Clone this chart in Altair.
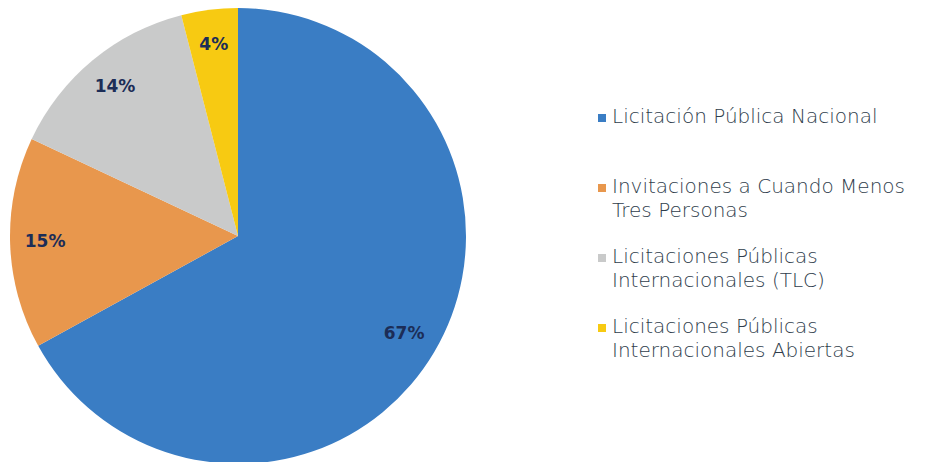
import altair as alt
import pandas as pd

categories = [
    "Licitación Pública Nacional",
    "Invitaciones a Cuando Menos Tres Personas",
    "Licitaciones Públicas Internacionales (TLC)",
    "Licitaciones Públicas Internacionales Abiertas",
]
legend_lines = [
    "Licitación Pública Nacional",
    "Invitaciones a Cuando Menos\nTres Personas",
    "Licitaciones Públicas\nInternacionales (TLC)",
    "Licitaciones Públicas\nInternacionales Abiertas",
]
values = [67, 15, 14, 4]
labels = ["67%", "15%", "14%", "4%"]
colors = ["#3A7DC4", "#E8974D", "#C9CACA", "#F7CA12"]

df = pd.DataFrame({
    "cat": categories,
    "legend": legend_lines,
    "value": values,
    "label": labels,
    "order": list(range(len(categories))),
})

color_scale = alt.Scale(domain=categories, range=colors)

base = alt.Chart(df).encode(
    theta=alt.Theta("value:Q", stack=True),
    order=alt.Order("order:Q"),
)

pie = base.mark_arc(radius=228, stroke=None).encode(
    color=alt.Color("cat:N", scale=color_scale, legend=None),
    x=alt.value(230),
    y=alt.value(228),
)

text = base.mark_text(
    radius=193, font="DejaVu Sans", fontSize=17, fontWeight="bold", color="#1C2D57"
).encode(
    text="label:N",
    x=alt.value(230),
    y=alt.value(228),
)

pie_chart = alt.layer(pie, text).properties(width=470, height=440)

leg_base = alt.Chart(df).encode(
    y=alt.Y("cat:N", scale=alt.Scale(type="point", domain=categories, range=[110, 320], padding=0), axis=None),
)
squares = leg_base.mark_square(size=64, opacity=1).encode(
    x=alt.value(124),
    color=alt.Color("cat:N", scale=color_scale, legend=None),
)
leg_text = leg_base.mark_text(
    align="left", baseline="top", dy=-11, lineBreak="\n", lineHeight=24,
    font="DejaVu Sans", fontSize=20, fontWeight=200, color="#2F3D4C",
).encode(
    x=alt.value(134),
    text="legend:N",
)
legend_chart = alt.layer(squares, leg_text).properties(width=440, height=440)

chart = alt.hconcat(pie_chart, legend_chart, spacing=0).properties(padding=0).configure_view(stroke=None)

chart.save("out.html", embed_options={"renderer": "svg", "actions": False})
